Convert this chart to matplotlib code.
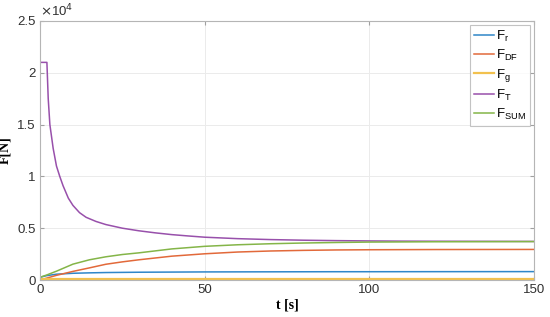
import matplotlib.pyplot as plt
from matplotlib.ticker import FuncFormatter

# values
t_T = [0, 0, 2.1, 2.5, 3, 4, 5, 6, 7, 8.6, 10, 12, 14, 17, 20, 25, 30, 35, 40, 45, 50,
       60, 70, 80, 90, 100, 110, 120, 135, 150]
F_T = [0, 21000, 21000, 17500, 15000, 12700, 11000, 10000, 9100, 7900, 7200, 6500, 6050,
       5650, 5350, 5000, 4750, 4550, 4380, 4250, 4130, 3990, 3900, 3840, 3800, 3770,
       3750, 3740, 3730, 3720]

t = [0, 2, 5, 10, 15, 20, 25, 30, 40, 50, 60, 70, 80, 90, 100, 120, 150]
F_SUM = [260, 480, 850, 1530, 1950, 2240, 2460, 2620, 3000, 3250, 3400, 3500, 3570,
         3620, 3660, 3690, 3710]
F_DF = [0, 180, 450, 830, 1170, 1520, 1750, 1950, 2300, 2530, 2700, 2800, 2860, 2900,
        2920, 2940, 2950]
F_r = [260, 420, 560, 650, 690, 720, 735, 750, 765, 780, 785, 790, 795, 800, 800, 805, 810]
F_g = [50] * len(t)

colors = ['#2f86c8', '#e2693a', '#f2c14e', '#9850ab', '#84b548']

plt.rcParams['font.family'] = ['Liberation Sans', 'DejaVu Sans']
fig = plt.figure(figsize=(5.5, 3.17), dpi=100)
ax = fig.add_axes([0.0727, 0.1167, 0.8985, 0.8173])

ax.plot(t, F_r, color=colors[0], lw=1.1, label='F$_\\mathregular{r}$')
ax.plot(t, F_DF, color=colors[1], lw=1.1, label='F$_\\mathregular{DF}$')
ax.plot(t, F_g, color=colors[2], lw=1.6, label='F$_\\mathregular{g}$')
ax.plot(t_T, F_T, color=colors[3], lw=1.1, label='F$_\\mathregular{T}$')
ax.plot(t, F_SUM, color=colors[4], lw=1.1, label='F$_\\mathregular{SUM}$')

ax.set_xlim(0, 150)
ax.set_ylim(0, 25000)
ax.set_xticks([0, 50, 100, 150])
ax.set_yticks([0, 5000, 10000, 15000, 20000, 25000])
ax.yaxis.set_major_formatter(FuncFormatter(lambda v, p: f'{v / 1e4:g}'))
ax.grid(True, color='#ebebeb', lw=0.7)
ax.tick_params(direction='in', length=3, labelsize=9.5, colors='#a0a0a0',
               labelcolor='#303030', top=True, right=True, pad=3)
for s in ax.spines.values():
    s.set_color('#b5b5b5')
    s.set_linewidth(0.8)

ax.text(0.0, 1.005, '$\\times$10$^4$', transform=ax.transAxes, fontsize=9.5,
        color='#303030', va='bottom', ha='left')
ax.set_xlabel('t [s]', fontfamily='Liberation Serif', fontweight='bold', fontsize=10,
              labelpad=2)
ax.set_ylabel('F[N]', fontfamily='Liberation Serif', fontweight='bold', fontsize=10,
              labelpad=4)

leg = ax.legend(loc='upper right', fontsize=9.5, frameon=True, fancybox=False,
                handlelength=1.5, handletextpad=0.2, borderpad=0.3, labelspacing=0.3,
                borderaxespad=0.3)
leg.get_frame().set_edgecolor('#b5b5b5')
leg.get_frame().set_linewidth(0.8)

fig.savefig('out.png', dpi=100)
